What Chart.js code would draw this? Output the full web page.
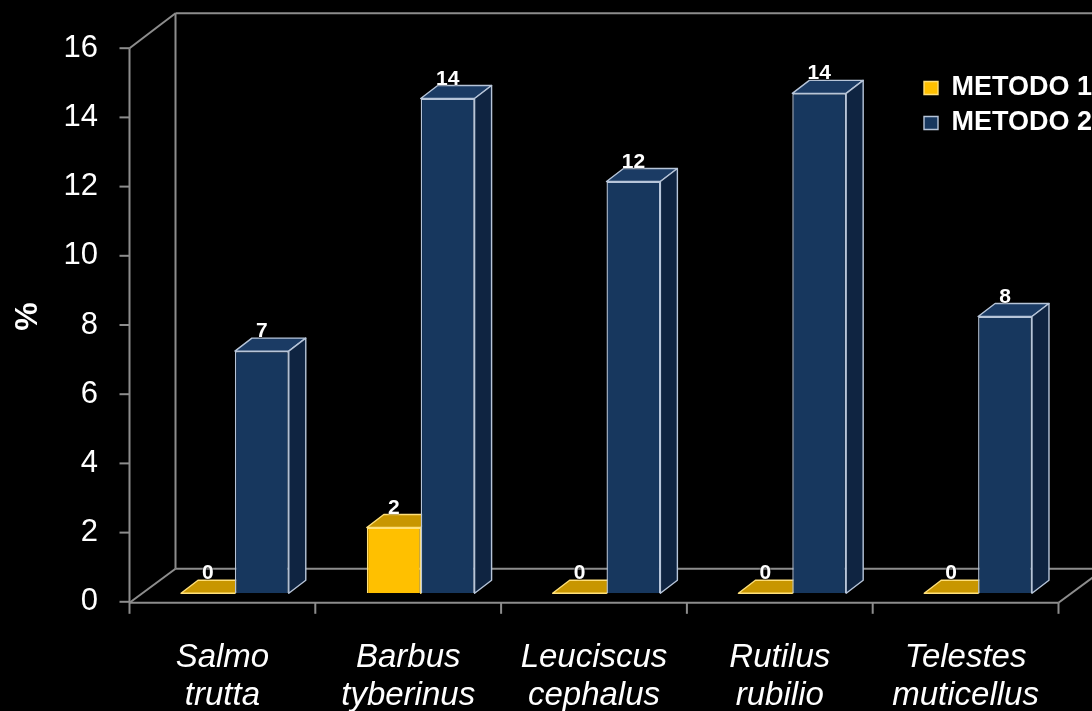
<!DOCTYPE html>
<html>
<head>
<meta charset="utf-8">
<title>METODO 1 / METODO 2</title>
<script src="https://cdn.jsdelivr.net/npm/chart.js@4.4.1/dist/chart.umd.min.js"></script>
<style>
  html, body { margin: 0; padding: 0; background: #000; }
  #wrap { width: 1092px; height: 711px; }
  canvas { display: block; }
</style>
</head>
<body>
<div id="wrap"><canvas id="chart" width="1092" height="711"></canvas></div>
<script>
// ---- data ----
const species = [
  ['Salmo', 'trutta'],
  ['Barbus', 'tyberinus'],
  ['Leuciscus', 'cephalus'],
  ['Rutilus', 'rubilio'],
  ['Telestes', 'muticellus']
];
const seriesNames = ['METODO 1', 'METODO 2'];
const metodo1 = [0, 1.9, 0, 0, 0];
const metodo2 = [7.0, 14.3, 11.9, 14.45, 8.0];
const yTicks = [0, 2, 4, 6, 8, 10, 12, 14, 16];
const yTitle = '%';

// ---- look ----
const FONT = '"Liberation Sans", Arial, Helvetica, sans-serif';
const FRAME = '#8d8d8d';
const styles = [
  { front: '#FFC000', top: '#C89600', side: '#A37A00', edge: '#FFE07A' },
  { front: '#17375E', top: '#1B3B64', side: '#0F2441', edge: '#B7C5D9' }
];
// oblique projection offsets (pixels)
const BAR_DEPTH = { x: 17, y: -13 };     // thickness of each bar
const PLANE = { x: 12.5, y: -8.5 };       // bar plane relative to the front edge of the floor
const WALL = { x: 46, y: -33 };           // back wall relative to the front edge

Chart.defaults.font.family = FONT;
Chart.defaults.color = '#ffffff';

function poly(ctx, pts, fill, stroke) {
  ctx.beginPath();
  ctx.moveTo(pts[0][0], pts[0][1]);
  for (let i = 1; i < pts.length; i++) ctx.lineTo(pts[i][0], pts[i][1]);
  ctx.closePath();
  ctx.fillStyle = fill;
  ctx.fill();
  ctx.lineJoin = 'round';
  ctx.lineWidth = 1.4;
  ctx.strokeStyle = stroke;
  ctx.stroke();
}

function line(ctx, x1, y1, x2, y2) {
  ctx.beginPath();
  ctx.moveTo(x1, y1);
  ctx.lineTo(x2, y2);
  ctx.stroke();
}

function frameGeometry(chart) {
  const a = chart.chartArea;
  const y = chart.scales.y;
  const fl = a.left - PLANE.x;
  const fr = a.right - PLANE.x;
  const f0 = y.getPixelForValue(yTicks[0]) - PLANE.y;
  const fTop = y.getPixelForValue(yTicks[yTicks.length - 1]) - PLANE.y;
  return { fl, fr, f0, fTop };
}

const box3d = {
  id: 'box3d',
  beforeDraw(chart) {
    const ctx = chart.ctx;
    ctx.save();
    ctx.fillStyle = '#000';
    ctx.fillRect(0, 0, chart.width, chart.height);
    ctx.restore();
    // legend sits at the upper right, over the plot
    const lg = chart.legend;
    if (lg) {
      const w = lg.width, h = lg.height;
      lg.left = 916; lg.top = 66.5;
      lg.right = lg.left + w; lg.bottom = lg.top + h;
    }
  },
  beforeDatasetsDraw(chart) {
    const ctx = chart.ctx;
    const g = frameGeometry(chart);
    ctx.save();
    ctx.strokeStyle = FRAME;
    ctx.lineWidth = 2;
    // back wall and back edge of the floor
    const bl = g.fl + WALL.x, br = g.fr + WALL.x;
    const b0 = g.f0 + WALL.y, bTop = g.fTop + WALL.y - 2;
    line(ctx, bl, bTop, bl, b0);
    line(ctx, bl, bTop, br, bTop);
    line(ctx, bl, b0, br, b0);
    line(ctx, br, bTop, br, b0);
    // top and side faces of the bars
    chart.data.datasets.forEach((ds, di) => {
      const meta = chart.getDatasetMeta(di);
      const st = styles[di];
      meta.data.forEach((el) => {
        const p = el.getProps(['x', 'y', 'base', 'width'], true);
        const l = p.x - p.width / 2, r = p.x + p.width / 2;
        const t = Math.min(p.y, p.base), b = Math.max(p.y, p.base);
        const dx = BAR_DEPTH.x, dy = BAR_DEPTH.y;
        poly(ctx, [[l, t], [l + dx, t + dy], [r + dx, t + dy], [r, t]], st.top, st.edge);
        if (b - t > 0.5) {
          poly(ctx, [[r, t], [r + dx, t + dy], [r + dx, b + dy], [r, b]], st.side, st.edge);
        }
      });
    });
    ctx.restore();
  },
  afterDatasetsDraw(chart) {
    const ctx = chart.ctx;
    const g = frameGeometry(chart);
    const xs = chart.scales.x, ys = chart.scales.y;
    ctx.save();
    ctx.strokeStyle = FRAME;
    ctx.lineWidth = 2;
    const bl = g.fl + WALL.x, br = g.fr + WALL.x;
    const b0 = g.f0 + WALL.y, bTop = g.fTop + WALL.y - 2;
    // front value axis and floor
    line(ctx, g.fl, g.fTop, g.fl, g.f0 + 1);
    line(ctx, g.fl, g.fTop, bl, bTop);
    line(ctx, g.fl, g.f0 + 1, bl, b0);
    line(ctx, g.fl, g.f0 + 1, g.fr, g.f0 + 1);
    line(ctx, g.fr, g.f0 + 1, br, b0);
    // tick marks on the value axis
    yTicks.forEach((v) => {
      const py = ys.getPixelForValue(v) - PLANE.y;
      line(ctx, g.fl - 10, py, g.fl, py);
    });
    // tick marks between categories
    for (let i = 0; i <= species.length; i++) {
      const px = xs.getPixelForValue(i - 0.5) - PLANE.x;
      line(ctx, px, g.f0 + 1, px, g.f0 + 12);
    }
    // value labels above each bar
    ctx.fillStyle = '#ffffff';
    ctx.font = 'bold 21px ' + FONT;
    ctx.textAlign = 'center';
    ctx.textBaseline = 'alphabetic';
    ctx.shadowColor = 'rgba(0,0,0,0.9)';
    ctx.shadowBlur = 2;
    chart.data.datasets.forEach((ds, di) => {
      const meta = chart.getDatasetMeta(di);
      meta.data.forEach((el, i) => {
        const p = el.getProps(['x', 'y', 'base'], true);
        const t = Math.min(p.y, p.base);
        ctx.fillText(String(Math.round(ds.data[i])), p.x, t + BAR_DEPTH.y - 1);
      });
    });
    ctx.restore();
  }
};

new Chart(document.getElementById('chart'), {
  type: 'bar',
  data: {
    labels: species,
    datasets: [
      {
        label: seriesNames[0],
        data: metodo1,
        backgroundColor: styles[0].front,
        borderColor: styles[0].edge,
        borderWidth: 1.4,
        borderSkipped: 'bottom'
      },
      {
        label: seriesNames[1],
        data: metodo2,
        backgroundColor: styles[1].front,
        borderColor: styles[1].edge,
        borderWidth: 1.4,
        borderSkipped: 'bottom'
      }
    ]
  },
  options: {
    responsive: false,
    animation: false,
    devicePixelRatio: 1,
    layout: { padding: { left: 0, top: 39.7, right: 21, bottom: 0 } },
    datasets: { bar: { categoryPercentage: 0.58, barPercentage: 1.0 } },
    plugins: {
      legend: {
        position: 'chartArea',
        align: 'start',
        labels: {
          color: '#ffffff',
          font: { family: FONT, size: 27, weight: 'bold' },
          boxWidth: 14,
          boxHeight: 13,
          padding: 8
        }
      },
      tooltip: { enabled: false }
    },
    scales: {
      x: {
        type: 'category',
        offset: true,
        grid: { display: false, drawTicks: true, tickLength: 46 },
        border: { display: false },
        ticks: {
          color: '#ffffff',
          font: { family: FONT, size: 33, style: 'italic', lineHeight: 1.15 },
          padding: 0,
          labelOffset: -PLANE.x,
          autoSkip: false,
          maxRotation: 0,
          minRotation: 0
        },
        afterFit(scale) { scale.height = 117.7; }
      },
      y: {
        min: yTicks[0],
        max: yTicks[yTicks.length - 1],
        afterBuildTicks(scale) { scale.ticks = yTicks.map((v) => ({ value: v })); },
        grid: { display: false, drawTicks: true, tickLength: 44 },
        border: { display: false },
        ticks: {
          color: '#ffffff',
          font: { family: FONT, size: 31 },
          padding: 0,
          labelOffset: -PLANE.y
        },
        title: {
          display: true,
          text: yTitle,
          color: '#ffffff',
          font: { family: FONT, size: 32, weight: 'bold' },
          padding: { top: 9, bottom: 0 }
        },
        afterFit(scale) { scale.width = 142; }
      }
    }
  },
  plugins: [box3d]
});
</script>
</body>
</html>
